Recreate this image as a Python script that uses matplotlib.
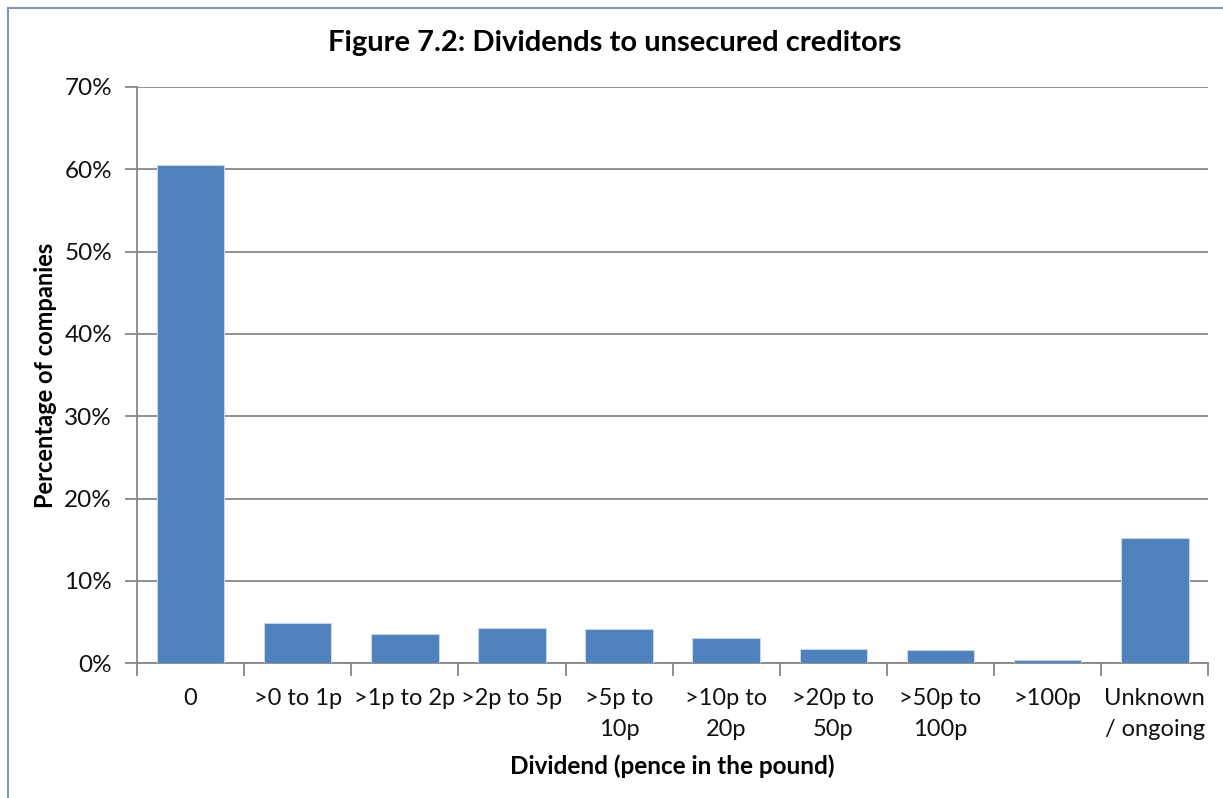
import matplotlib.pyplot as plt
from matplotlib.patches import Rectangle
from matplotlib.ticker import FuncFormatter, FixedLocator

categories = ["0", ">0 to 1p", ">1p to 2p", ">2p to 5p", ">5p to\n10p", ">10p to\n20p",
              ">20p to\n50p", ">50p to\n100p", ">100p", "Unknown\n/ ongoing"]
pct_companies = [60.5, 4.9, 3.5, 4.25, 4.1, 3.05, 1.7, 1.55, 0.35, 15.2]
y_ticks = [0, 10, 20, 30, 40, 50, 60, 70]

plt.rcParams['font.family'] = ['Lato', 'DejaVu Sans']

fig = plt.figure(figsize=(12.23, 7.98), dpi=100)
ax = fig.add_axes([0.112, 0.169, 0.876, 0.722])

x = range(len(categories))
ax.bar(x, pct_companies, width=0.63, color='#4f81bd', edgecolor='#c6d6ea', linewidth=0.8, zorder=3)

ax.set_xlim(-0.5, len(categories) - 0.5)
ax.set_ylim(0, 70)
ax.set_yticks(y_ticks)
ax.yaxis.set_major_formatter(FuncFormatter(lambda v, p: "%d%%" % v))
ax.grid(axis='y', color='#878787', linewidth=1.3, zorder=0)

ax.set_xticks(list(x))
ax.set_xticklabels(categories, fontsize=17, color='#111111', linespacing=1.6)
ax.xaxis.set_minor_locator(FixedLocator([i - 0.5 for i in range(len(categories) + 1)]))
ax.tick_params(axis='x', which='major', length=0, pad=18)
ax.tick_params(axis='x', which='minor', length=9, width=1.3, color='#878787')
ax.tick_params(axis='y', length=9, width=1.3, color='#878787', labelsize=17.5, labelcolor='#111111', pad=9)

for s in ['top', 'right']:
    ax.spines[s].set_visible(False)
for s in ['left', 'bottom']:
    ax.spines[s].set_color('#878787')
    ax.spines[s].set_linewidth(1.3)

ax.set_xlabel("Dividend (pence in the pound)", fontsize=17.5, fontweight='bold', labelpad=10)
ax.set_ylabel("Percentage of companies", fontsize=17, fontweight='bold', labelpad=5)
fig.suptitle("Figure 7.2: Dividends to unsecured creditors", x=0.503, y=0.962,
             fontsize=21, fontweight='bold')

# chart frame, only top and left edges fall inside the canvas
fig.patches.append(Rectangle((8 / 1223, -0.1), 1.2, 1.1 - 8 / 798, transform=fig.transFigure,
                             fill=False, edgecolor='#8196b4', linewidth=1.5))

fig.savefig("out.png", dpi=100)
